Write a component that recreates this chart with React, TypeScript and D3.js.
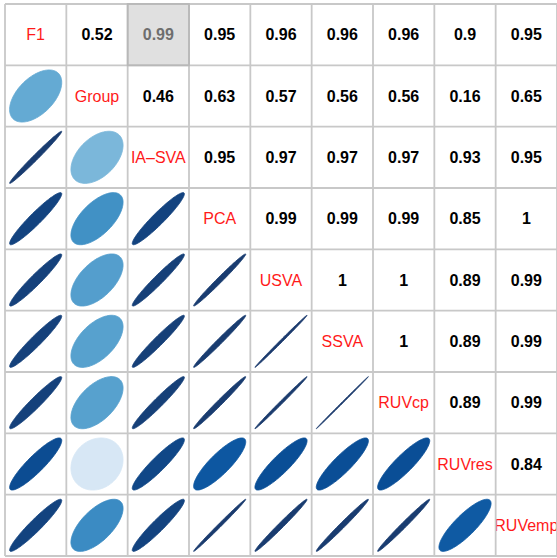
import React from "react";
import * as d3 from "d3";

const variables = ["F1", "Group", "IA\u2013SVA", "PCA", "USVA", "SSVA", "RUVcp", "RUVres", "RUVemp"];

// upper-triangle correlations, row i lists r(i, j) for j > i
const rowF1 = [0.52, 0.99, 0.95, 0.96, 0.96, 0.96, 0.9, 0.95];
const rowGroup = [0.46, 0.63, 0.57, 0.56, 0.56, 0.16, 0.65];
const rowIASVA = [0.95, 0.97, 0.97, 0.97, 0.93, 0.95];
const rowPCA = [0.99, 0.99, 0.99, 0.85, 0.996];
const rowUSVA = [0.998, 0.997, 0.89, 0.99];
const rowSSVA = [0.9995, 0.89, 0.99];
const rowRUVcp = [0.89, 0.99];
const rowRUVres = [0.84];
const upperRows = [rowF1, rowGroup, rowIASVA, rowPCA, rowUSVA, rowSSVA, rowRUVcp, rowRUVres, []];

const highlighted = { row: 0, col: 2 };

const bluesStops = ["#F7FBFF", "#DEEBF7", "#C6DBEF", "#9ECAE1", "#6BAED6", "#4292C6", "#2171B5", "#08519C", "#1b3a6c"];

const W = 557;
const H = 558;

function corr(i: number, j: number): number {
  if (i === j) return 1;
  const a = Math.min(i, j);
  const b = Math.max(i, j);
  return upperRows[a][b - a - 1];
}

export default function App() {
  const n = variables.length;
  const x = d3.scaleBand<number>().domain(d3.range(n)).range([5, 557]);
  const y = d3.scaleBand<number>().domain(d3.range(n)).range([4, 556]);
  const s = x.bandwidth();
  const color = d3
    .scaleLinear<string>()
    .domain(bluesStops.map((_, k) => k / (bluesStops.length - 1)))
    .range(bluesStops)
    .interpolate(d3.interpolateRgb)
    .clamp(true);

  const fmt = (r: number) => String(+r.toFixed(2));

  const ellipsePath = (r: number, cx: number, cy: number) => {
    const a = Math.acos(Math.max(-1, Math.min(1, r)));
    const ts = d3.range(0, 2 * Math.PI + 1e-9, (2 * Math.PI) / 98);
    const line = d3
      .line<number>()
      .x((t) => cx + 0.85 * s * (Math.cos(t + a / 2) / 2))
      .y((t) => cy - 0.85 * s * (Math.cos(t - a / 2) / 2));
    return line(ts) + "Z";
  };

  const cells: React.ReactNode[] = [];
  for (let i = 0; i < n; i++) {
    for (let j = 0; j < n; j++) {
      const x0 = x(j)!;
      const y0 = y(i)!;
      const cx = x0 + s / 2;
      const cy = y0 + s / 2;
      const isHi = i === highlighted.row && j === highlighted.col;
      if (isHi) {
        cells.push(
          <rect key={`bg-${i}-${j}`} x={x0} y={y0} width={s} height={s} fill="#e0e0e0" />
        );
      }
      if (i === j) {
        cells.push(
          <text
            key={`t-${i}`}
            x={cx}
            y={cy}
            textAnchor="middle"
            dominantBaseline="central"
            fill="#ff1a1a"
            fontSize={16}
            fontFamily="Liberation Sans, Arial, sans-serif"
          >
            {variables[i]}
          </text>
        );
      } else if (j > i) {
        const r = corr(i, j);
        cells.push(
          <text
            key={`v-${i}-${j}`}
            x={cx}
            y={cy}
            textAnchor="middle"
            dominantBaseline="central"
            fill={isHi ? "#6e6e6e" : "#000"}
            fontSize={16}
            fontWeight="bold"
            fontFamily="Liberation Sans, Arial, sans-serif"
          >
            {fmt(r)}
          </text>
        );
      } else {
        const r = corr(i, j);
        const c = color(r);
        cells.push(
          <path key={`e-${i}-${j}`} d={ellipsePath(r, cx, cy)} fill={c} stroke={c} strokeWidth={0.8} />
        );
      }
    }
  }

  const gridLines: React.ReactNode[] = [];
  for (let k = 0; k <= n; k++) {
    const gx = k < n ? x(k)! : x(n - 1)! + s;
    const gy = k < n ? y(k)! : y(n - 1)! + s;
    gridLines.push(
      <line key={`gv-${k}`} x1={gx} x2={gx} y1={4} y2={556} stroke="#c8c8c8" strokeWidth={1.8} />
    );
    gridLines.push(
      <line key={`gh-${k}`} x1={5} x2={557} y1={gy} y2={gy} stroke="#c8c8c8" strokeWidth={1.8} />
    );
  }

  const hx = x(highlighted.col)!;
  const hy = y(highlighted.row)!;

  return (
    <svg
      width={W}
      height={H}
      style={{ position: "absolute", left: 0, top: 0, background: "#fff" }}
    >
      <rect x={0} y={0} width={W} height={H} fill="#fff" />
      {cells.filter((_, idx) => true)}
      {gridLines}
      <rect x={hx} y={hy} width={s} height={s} fill="none" stroke="#b8b8b8" strokeWidth={1.8} />
    </svg>
  );
}
